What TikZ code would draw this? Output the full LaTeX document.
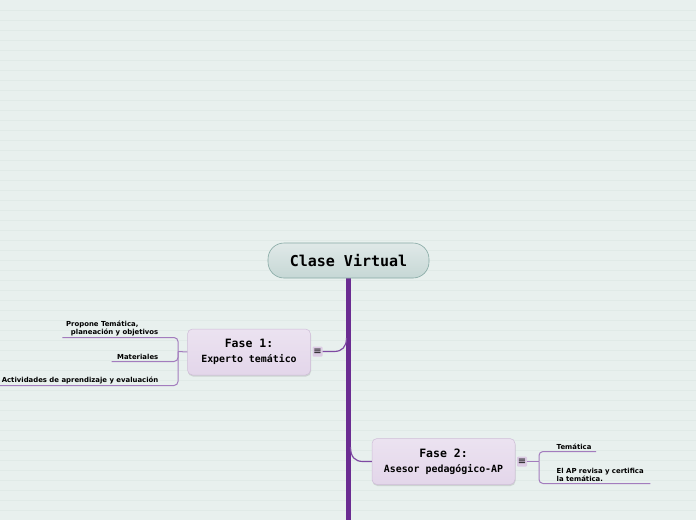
\documentclass[tikz,border=0pt]{standalone}
\usepackage{fontspec}
\setmainfont{DejaVu Sans}
\newfontfamily\monofont{DejaVu Sans Mono}
\usetikzlibrary{shadows}

\definecolor{bgcol}{HTML}{E8F0EE}
\definecolor{bgline}{HTML}{E0EAE7}
\definecolor{trunkcol}{HTML}{6A2C91}
\definecolor{linkcol}{HTML}{7F4AA3}
\definecolor{branchcol}{HTML}{A37CBE}
\definecolor{rootfill}{HTML}{C6D7D5}
\definecolor{rootdraw}{HTML}{86A9A4}
\definecolor{fasefill}{HTML}{E3D6EA}
\definecolor{fasedraw}{HTML}{CFBDD8}
\definecolor{icofill}{HTML}{DCCCE4}

\tikzset{
  rootbox/.style={draw=rootdraw, line width=0.6pt, rounded corners=16pt,
    top color=rootfill!55!white, bottom color=rootfill,
    minimum width=161pt, minimum height=35pt,
    font=\monofont\bfseries\fontsize{15}{18}\selectfont},
  fasebox/.style={draw=fasedraw, line width=0.5pt, rounded corners=5pt,
    top color=fasefill!70!white, bottom color=fasefill,
    drop shadow={opacity=0.25, shadow xshift=0.5pt, shadow yshift=-1.5pt},
    minimum height=46pt, align=center, inner sep=2pt,
    font=\monofont\bfseries},
  icobox/.style={fill=icofill, rounded corners=1pt, minimum size=10pt,
    inner sep=0pt, font=\fontsize{10}{10}\selectfont},
  leaf/.style={inner sep=1.5pt, align=left,
    font=\bfseries\fontsize{6.9}{8}\selectfont},
  trunk/.style={draw=trunkcol, line width=5pt},
  link/.style={draw=linkcol, line width=1.2pt},
  branch/.style={draw=branchcol, line width=1pt, rounded corners=4pt},
}

\begin{document}
\begin{tikzpicture}[x=1pt,y=1pt,yscale=-1,xscale=1]
    % background with ruled lines
    \fill[bgcol] (0,0) rectangle (696,520);
    \useasboundingbox (0,0) rectangle (696,520);
    \foreach \y in {10,20,...,510} {
      \draw[bgline, line width=0.8pt] (0,\y) -- (696,\y);
    }

    % main topic and trunk
    \coordinate (bottom) at (348.5,520);
    \draw[trunk] (348.5,270) -- (bottom);
    \node[rootbox] (root) at (348.5,260.5) {Clase Virtual};

    % phase nodes
    \node[fasebox, minimum width=123pt] (fase1) at (249,352)
      {{\fontsize{11.5}{14}\selectfont Fase 1:}\\[3pt]{\fontsize{9.9}{12}\selectfont Experto temático}};
    \node[fasebox, minimum width=143pt] (fase2) at (443.5,461.5)
      {{\fontsize{11.5}{14}\selectfont Fase 2:}\\[3pt]{\fontsize{9.9}{12}\selectfont Asesor pedagógico-AP}};
    \node[icobox] (ico1) at (317.5,351.5) {≡};
    \node[icobox] (ico2) at (522,461.5) {≡};

    % connectors from trunk
    \coordinate (t1) at (346.5,338);
    \coordinate (t2) at (350.5,447);
    \draw[link] (ico1.east) -- (334,351.5) .. controls (342,351.5) and (346.5,347) .. (t1);
    \draw[link] (t2) .. controls (350.5,457) and (355,461.5) .. (363,461.5) -- (fase2.west);

    % leaves of phase 1
    \node[leaf, anchor=south east] (l11) at (160,337.5) {Propone Temática,\\\ \ planeación y objetivos};
    \node[leaf, anchor=south east] (l12) at (160,361.5) {Materiales};
    \node[leaf, anchor=south east] (l13) at (160,385.5) {Actividades de aprendizaje y evaluación};
    \coordinate (b1) at (178,351.5);
    \draw[branch] (fase1.west) -- (b1);
    \draw[branch] (b1) |- ([xshift=-2pt]l11.south west);
    \draw[branch] (b1) |- ([xshift=-4pt]l12.south west);
    \draw[branch] (b1) |- (0,385.5);

    % leaves of phase 2
    \node[leaf, anchor=south west] (l21) at (555,451.5) {Temática};
    \node[leaf, anchor=south west] (l22) at (555,483.5) {El AP revisa y certifica\\la temática.};
    \coordinate (b2) at (539,461.5);
    \draw[branch] (ico2.east) -- (b2);
    \draw[branch] (b2) |- ([xshift=3pt]l21.south east);
    \draw[branch] (b2) |- ([xshift=5pt]l22.south east);
\end{tikzpicture}
\end{document}
